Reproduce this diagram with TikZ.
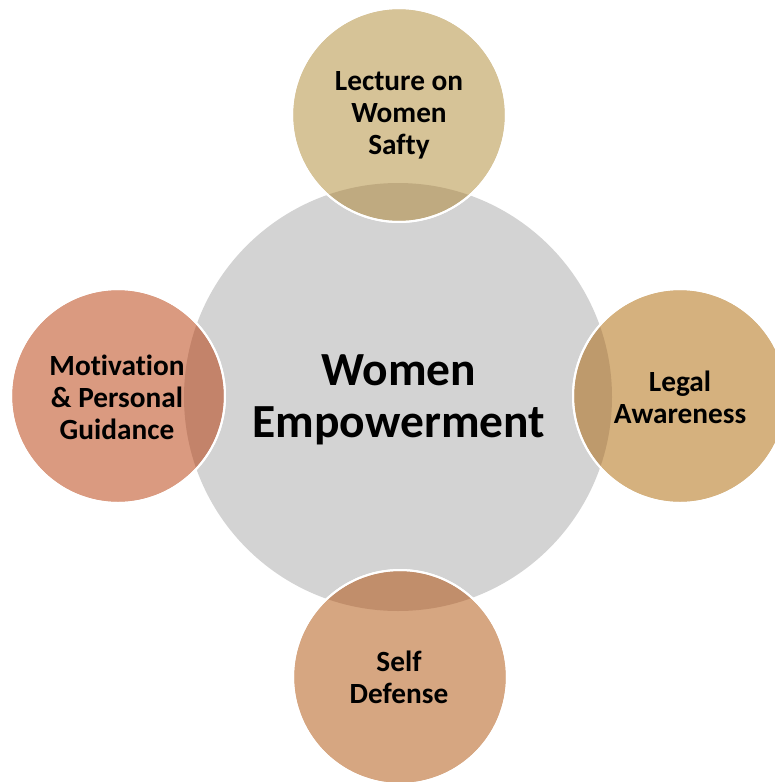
\documentclass[tikz,border=0pt]{standalone}
\usepackage{fontspec}
\setmainfont[Ligatures=NoCommon]{Carlito}
\definecolor{cgray}{RGB}{211,211,211}
\definecolor{ctop}{RGB}{214,195,151}
\definecolor{ctopo}{RGB}{191,170,128}
\definecolor{cright}{RGB}{213,177,126}
\definecolor{cranto}{RGB}{190,154,108}
\definecolor{cleft}{RGB}{218,154,128}
\definecolor{clefto}{RGB}{195,131,106}
\definecolor{cbot}{RGB}{214,166,129}
\definecolor{cboto}{RGB}{193,142,107}
\tikzset{
  hub/.style={circle, fill=cgray, minimum size=428pt, inner sep=0pt, font=\bfseries\fontsize{47.5}{52}\selectfont, align=center},
  sat/.style={circle, draw=white, line width=2pt, minimum size=214pt, inner sep=0pt},
  lbl/.style={font=\bfseries\fontsize{29.3}{32}\selectfont, align=center}
}
\begin{document}
\begin{tikzpicture}[x=1pt,y=-1pt]
\useasboundingbox (0,0) rectangle (775,782);
\node[hub] (hub) at (398,397) {};
\node[hub, fill=none] (hubtxt) at (399,400) {Women\\Empowerment};
% satellites
\foreach \nm/\cx/\cy/\c/\co in {top/399/115/ctop/ctopo, right/680/396/cright/cranto, left/118/396/cleft/clefto, bot/400/677/cbot/cboto}{
  \fill[\c] (\cx,\cy) circle (107);
  \begin{scope}
    \clip (\cx,\cy) circle (107);
    \fill[\co] (398,397) circle (214);
  \end{scope}
  \draw[white, line width=2pt] (\cx,\cy) circle (107);
}
\node[sat] (top) at (399,115) {};
\node[sat] (right) at (680,396) {};
\node[sat] (left) at (118,396) {};
\node[sat] (bot) at (400,677) {};
\node[lbl] (toptxt) at (399,115) {Lecture on\\Women\\Safty};
\node[lbl] (righttxt) at (680,397) {Legal\\Awareness};
\node[lbl] (lefttxt) at (117,397) {Motivation\\\& Personal\\Guidance};
\node[lbl] (bottxt) at (399,677) {Self\\Defense};
\end{tikzpicture}
\end{document}
